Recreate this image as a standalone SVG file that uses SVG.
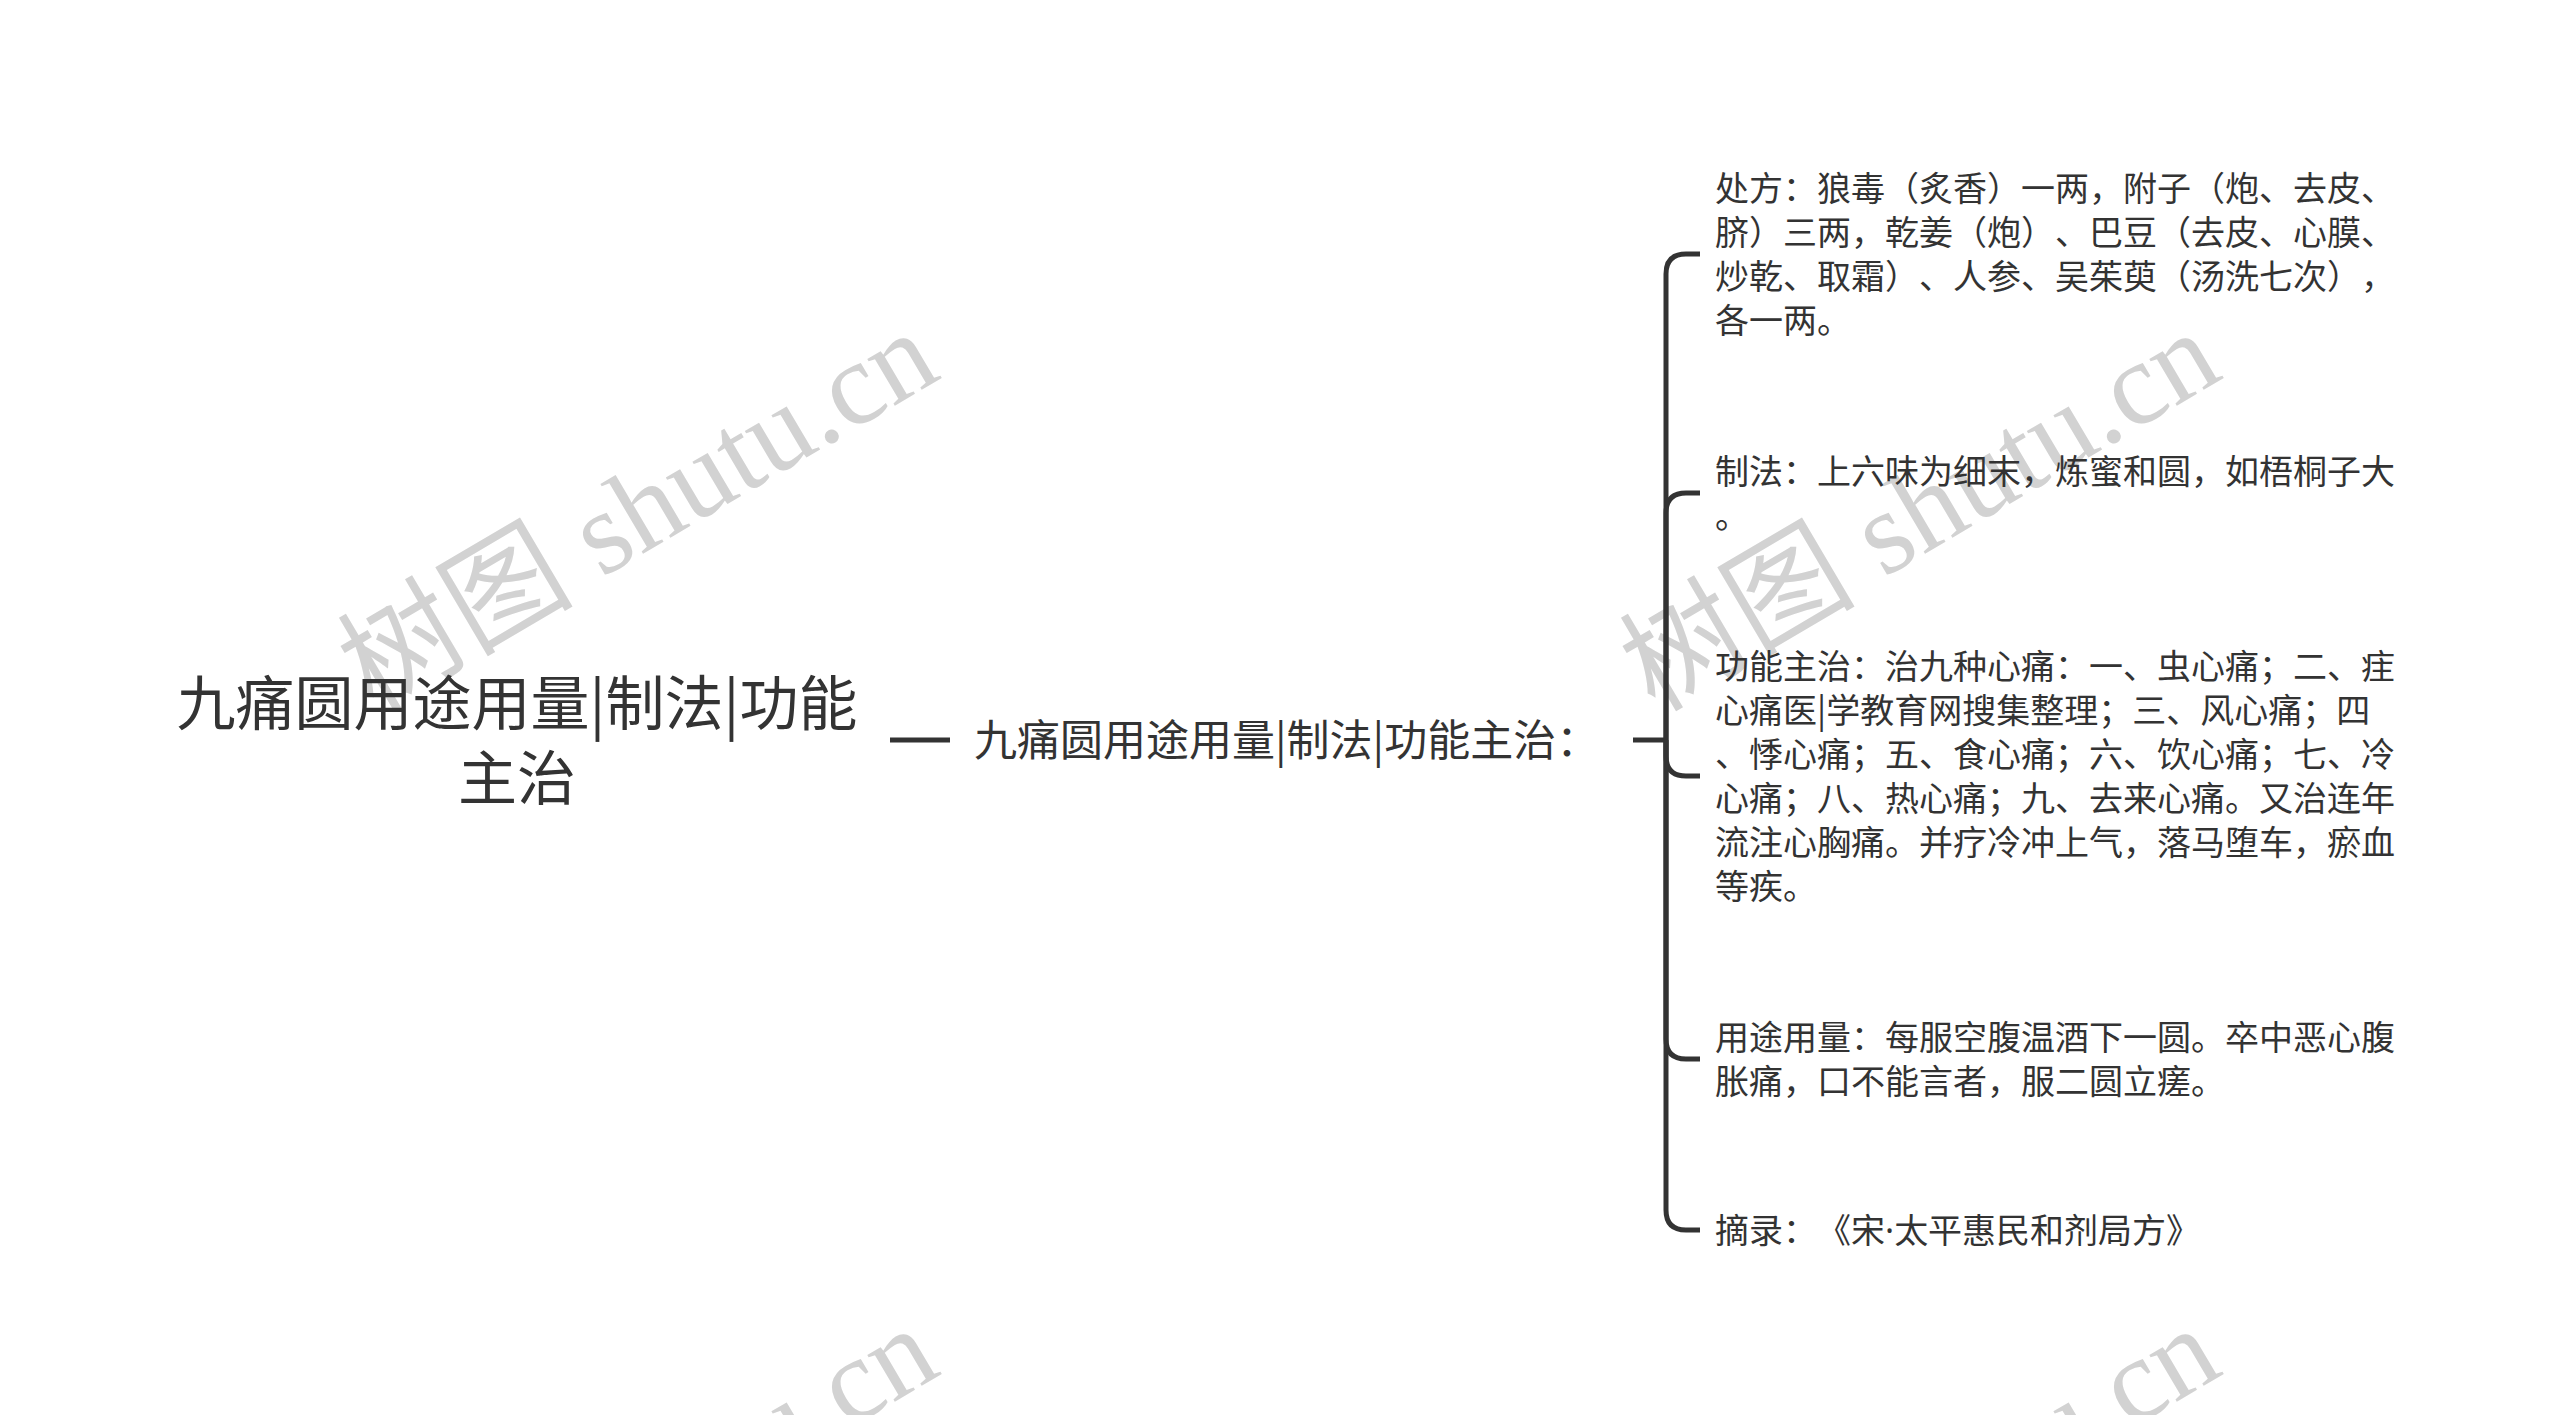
<svg xmlns="http://www.w3.org/2000/svg" width="2560" height="1415" viewBox="0 0 2560 1415">
<style>
.t{font-family:"Noto Sans CJK SC","Noto Sans",sans-serif;fill:#333333;text-spacing-trim:space-all}
.root{font-size:59px}
.mid{font-size:43px}
.leaf{font-size:34px}
.dot{font-family:"Noto Sans","Liberation Sans",sans-serif}
.wm{font-family:"Liberation Serif","Noto Sans CJK SC",serif;font-size:118px;fill:#d2d2d2}
.ln{fill:none;stroke:#333333;stroke-width:5;stroke-linecap:butt}
</style>
<rect width="2560" height="1415" fill="#ffffff"/>
<g id="watermarks">
<text class="wm" text-anchor="middle" transform="translate(658,545) rotate(-30.5)">树图 shutu.cn</text>
<text class="wm" text-anchor="middle" transform="translate(1940,545) rotate(-30.5)">树图 shutu.cn</text>
<text class="wm" text-anchor="middle" transform="translate(658,1541) rotate(-30.5)">树图 shutu.cn</text>
<text class="wm" text-anchor="middle" transform="translate(1940,1541) rotate(-30.5)">树图 shutu.cn</text>
</g>
<g id="connectors">
<path class="ln" d="M890,740 H950"/>
<path class="ln" d="M1633,740 H1666"/>
<path class="ln" d="M1666,740 V274 Q1666,254 1686,254 H1700"/>
<path class="ln" d="M1666,740 V513 Q1666,493 1686,493 H1700"/>
<path class="ln" d="M1666,740 V756 Q1666,776 1686,776 H1700"/>
<path class="ln" d="M1666,740 V1039 Q1666,1059 1686,1059 H1700"/>
<path class="ln" d="M1666,740 V1210 Q1666,1230 1686,1230 H1700"/>
</g>
<g id="root">
<text class="t root" text-anchor="middle" x="517" y="725">九痛圆用途用量|制法|功能</text>
<text class="t root" text-anchor="middle" x="517" y="800">主治</text>
</g>
<g id="mid">
<text class="t mid" x="974" y="756">九痛圆用途用量|制法|功能主治：</text>
</g>
<g id="child1">
<text class="t leaf" x="1715" y="201">处方：狼毒（炙香）一两，附子（炮、去皮、</text>
<text class="t leaf" x="1715" y="245">脐）三两，乾姜（炮）、巴豆（去皮、心膜、</text>
<text class="t leaf" x="1715" y="289">炒乾、取霜）、人参、吴茱萸（汤洗七次），</text>
<text class="t leaf" x="1715" y="333">各一两。</text>
</g>
<g id="child2">
<text class="t leaf" x="1715" y="484">制法：上六味为细末，炼蜜和圆，如梧桐子大</text>
<text class="t leaf" x="1715" y="528">。</text>
</g>
<g id="child3">
<text class="t leaf" x="1715" y="679">功能主治：治九种心痛：一、虫心痛；二、疰</text>
<text class="t leaf" x="1715" y="723">心痛医|学教育网搜集整理；三、风心痛；四</text>
<text class="t leaf" x="1715" y="767">、悸心痛；五、食心痛；六、饮心痛；七、冷</text>
<text class="t leaf" x="1715" y="811">心痛；八、热心痛；九、去来心痛。又治连年</text>
<text class="t leaf" x="1715" y="855">流注心胸痛。并疗冷冲上气，落马堕车，瘀血</text>
<text class="t leaf" x="1715" y="899">等疾。</text>
</g>
<g id="child4">
<text class="t leaf" x="1715" y="1050">用途用量：每服空腹温酒下一圆。卒中恶心腹</text>
<text class="t leaf" x="1715" y="1094">胀痛，口不能言者，服二圆立瘥。</text>
</g>
<g id="child5">
<text class="t leaf" x="1715" y="1243">摘录：《宋<tspan class="dot">·</tspan>太平惠民和剂局方》</text>
</g>
</svg>
